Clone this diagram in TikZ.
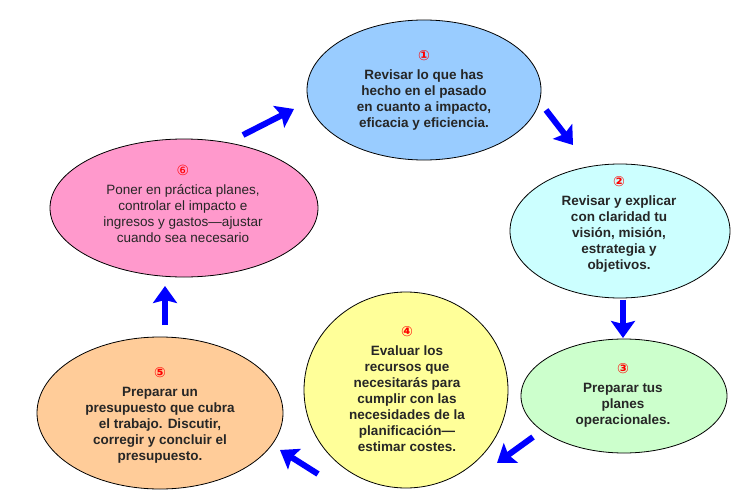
\documentclass[tikz,border=0pt]{standalone}
\usepackage{fontspec}
\setmainfont{Liberation Sans}
\newfontfamily\numfont{DejaVu Sans}
\usetikzlibrary{shapes.geometric,arrows.meta}

\definecolor{pastblue}{HTML}{99CCFF}
\definecolor{pastcyan}{HTML}{CCFFFF}
\definecolor{pastgreen}{HTML}{CCFFCC}
\definecolor{pastyellow}{HTML}{FFFF99}
\definecolor{pastorange}{HTML}{FFCC99}
\definecolor{pastpink}{HTML}{FF99CC}

\tikzset{
  stage/.style={ellipse, draw, line width=0.8pt, inner sep=0pt},
  stagetext/.style={align=center, text=black!85, font=\fontsize{13.5}{16}\selectfont\bfseries},
  flow/.style={draw=blue, line width=6pt, -{Stealth[length=17pt,width=24pt,inset=3pt]}}
}
\newcommand{\stepnum}[1]{{\numfont\fontsize{14}{14}\selectfont\color{red}#1}\\[3pt]}

\begin{document}
\begin{tikzpicture}[x=1pt, y=-1pt]
  \useasboundingbox (0,0) rectangle (731,495);

  \node[stage, fill=pastblue,   minimum width=234pt, minimum height=140pt] (e1) at (424,90) {};
  \node[stage, fill=pastcyan,   minimum width=220pt, minimum height=134pt] (e2) at (620,231) {};
  \node[stage, fill=pastgreen,  minimum width=206pt, minimum height=114pt] (e3) at (624,396) {};
  \node[stage, fill=pastyellow, minimum width=204pt, minimum height=196pt] (e4) at (406,390) {};
  \node[stage, fill=pastorange, minimum width=246pt, minimum height=152pt] (e5) at (160,413) {};
  \node[stage, fill=pastpink,   minimum width=268pt, minimum height=138pt] (e6) at (184,208) {};

  \node[stagetext] (t1) at (424,90) {\stepnum{①}Revisar lo que has\\hecho en el pasado\\en cuanto a impacto,\\eficacia y eficiencia.};
  \node[stagetext] (t2) at (619,224) {\stepnum{②}Revisar y explicar\\con claridad tu\\visión, misión,\\estrategia y\\objetivos.};
  \node[stagetext] (t3) at (623,395) {\stepnum{③}Preparar tus\\planes\\operacionales.};
  \node[stagetext] (t4) at (407,389) {\stepnum{④}Evaluar los\\recursos que\\necesitarás para\\cumplir con las\\necesidades de la\\planificación—\\estimar costes.};
  \node[stagetext] (t5) at (160,415) {\stepnum{⑤}Preparar un\\presupuesto que cubra\\el trabajo. Discutir,\\corregir y concluir el\\presupuesto.};
  \node[stagetext, font=\fontsize{13.5}{16}\selectfont] (t6) at (183,204) {\stepnum{⑥}Poner en práctica planes,\\controlar el impacto e\\ingresos y gastos—ajustar\\cuando sea necesario};

  % arrow ends
  \coordinate (a61) at (243,135); \coordinate (b61) at (294,109);
  \coordinate (a12) at (546,110); \coordinate (b12) at (573,145);
  \coordinate (a23) at (623,300); \coordinate (b23) at (623,338);
  \coordinate (a34) at (533,437); \coordinate (b34) at (497,463);
  \coordinate (a45) at (318,474); \coordinate (b45) at (280,450);
  \coordinate (a56) at (165,325); \coordinate (b56) at (165,286);

  \foreach \s/\t in {a61/b61, a12/b12, a23/b23, a34/b34, a45/b45, a56/b56}
    \draw[flow] (\s) -- (\t);
\end{tikzpicture}
\end{document}
